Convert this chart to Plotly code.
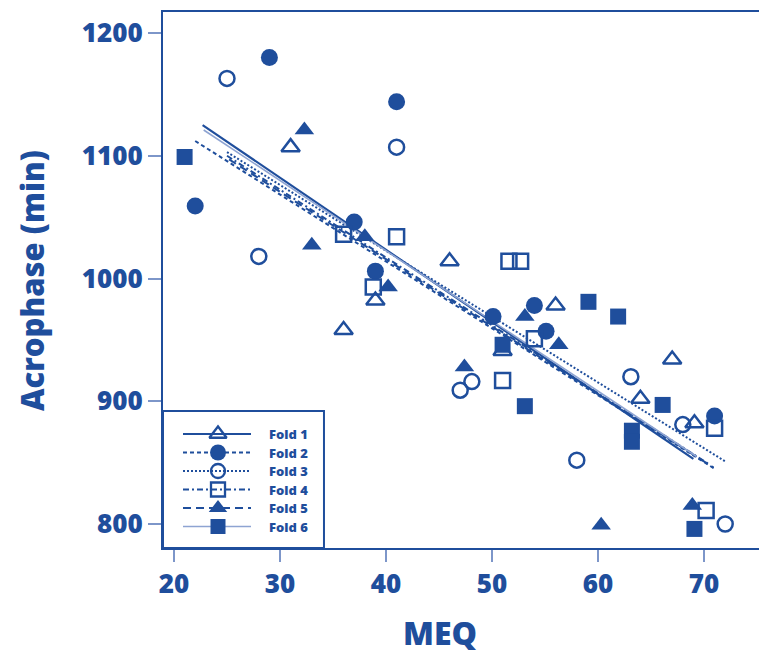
import plotly.graph_objects as go

# ---------------- data ----------------
folds = ["Fold 1", "Fold 2", "Fold 3", "Fold 4", "Fold 5", "Fold 6"]

fold1_meq = [31, 36, 39, 46, 51, 56, 64, 67, 69.1]
fold1_acro = [1107, 958, 982, 1014, 941, 978, 902, 934, 882]

fold2_meq = [22, 29, 41, 37, 39, 50.1, 54, 55.1, 71]
fold2_acro = [1059, 1180, 1144, 1046, 1006, 969, 978, 957, 888]

fold3_meq = [25, 41, 28, 47, 48.1, 58, 63.1, 68, 72]
fold3_acro = [1163, 1107, 1018, 909, 916, 852, 920, 881, 800]

fold4_meq = [36, 41, 38.8, 51.6, 52.7, 51, 54, 71, 70.2]
fold4_acro = [1036, 1034, 993, 1014, 1014, 917, 951, 878, 811]

fold5_meq = [32.3, 33, 38, 40.2, 47.4, 53.1, 56.3, 60.3, 68.9]
fold5_acro = [1121, 1027, 1034, 993, 928, 969, 946, 799, 815]

fold6_meq = [21, 51, 53.1, 59.1, 61.9, 63.2, 63.2, 66.1, 69.1]
fold6_acro = [1099, 946, 896, 981, 969, 876, 867, 897, 796]

# per-fold regression line end points
fit_x_start = [22.7, 22.0, 25.0, 25.0, 25.2, 22.8]
fit_x_end = [69.0, 71.0, 72.0, 70.6, 70.9, 69.3]
fit_y_start = [1125, 1112, 1103, 1100, 1097, 1121]
fit_y_end = [853, 845, 851, 848, 846, 855]

x_ticks = [20, 30, 40, 50, 60, 70]
y_ticks = [800, 900, 1000, 1100, 1200]

# ---------------- styles ----------------
BLUE = "#1f4e9c"
LIGHT = "#8ea4d2"
TICKC = "#7d96c9"
FONT = "Open Sans"
W = 800

meq = [fold1_meq, fold2_meq, fold3_meq, fold4_meq, fold5_meq, fold6_meq]
acro = [fold1_acro, fold2_acro, fold3_acro, fold4_acro, fold5_acro, fold6_acro]
symbols = ["triangle-up-open", "circle", "circle-open", "square-open",
           "triangle-up", "square"]
msize = [16, 17, 15, 15, 17, 16]
dashes = ["solid", "4px,3px", "2px,2px", "6px,3px,2px,3px", "8px,5px", "solid"]
lcolors = [BLUE, BLUE, BLUE, BLUE, BLUE, LIGHT]
lwidths = [2.2, 2, 2, 2, 2, 1.6]

fig = go.Figure()

# regression lines
for i in range(6):
    fig.add_trace(go.Scatter(
        x=[fit_x_start[i], fit_x_end[i]], y=[fit_y_start[i], fit_y_end[i]],
        mode="lines", line=dict(color=lcolors[i], width=lwidths[i], dash=dashes[i]),
        showlegend=False, hoverinfo="skip"))

# points
for i in range(6):
    fig.add_trace(go.Scatter(
        x=meq[i], y=acro[i], mode="markers", name=folds[i],
        marker=dict(symbol=symbols[i], size=msize[i], color=BLUE,
                    line=dict(color=BLUE, width=2.5 if "open" in symbols[i] else 0)),
        showlegend=False))

# ---------------- manual legend (pixel overlay axis) ----------------
row_y = [434, 452.5, 471, 489.5, 508, 526.5]
for i in range(6):
    fig.add_trace(go.Scatter(
        x=[183, 251], y=[row_y[i], row_y[i]], xaxis="x2", yaxis="y2",
        mode="lines", line=dict(color=lcolors[i], width=lwidths[i], dash=dashes[i]),
        showlegend=False, hoverinfo="skip"))
    fig.add_trace(go.Scatter(
        x=[218], y=[row_y[i]], xaxis="x2", yaxis="y2", mode="markers",
        marker=dict(symbol=symbols[i], size=msize[i] - 1, color=BLUE,
                    line=dict(color=BLUE, width=2.3 if "open" in symbols[i] else 0)),
        showlegend=False, hoverinfo="skip"))
    fig.add_annotation(x=268, y=row_y[i], xref="x2", yref="y2", text=folds[i],
                       showarrow=False, xanchor="left", yanchor="middle",
                       borderpad=0,
                       font=dict(family=FONT, size=13, color=BLUE, weight=W))

fig.add_shape(type="rect", xref="paper", yref="paper", x0=0, x1=0.2701,
              y0=0, y1=0.2556, line=dict(color=BLUE, width=2),
              fillcolor="white", layer="below")

# axis titles
fig.add_annotation(x=-0.2198, y=0.5, xref="paper", yref="paper",
                   text="Acrophase (min)", textangle=-90, showarrow=False,
                   xanchor="center", yanchor="middle",
                   font=dict(family=FONT, size=31, color=BLUE, weight=W))
fig.add_annotation(x=0.4648, y=-0.158, xref="paper", yref="paper",
                   text="MEQ", showarrow=False, xanchor="center", yanchor="middle",
                   font=dict(family=FONT, size=32, color=BLUE, weight=W))

fig.update_layout(
    width=759, height=653,
    margin=dict(l=163, r=0, t=12, b=105),
    paper_bgcolor="white", plot_bgcolor="white",
    showlegend=False,
    xaxis=dict(range=[18.962, 75.19], tickvals=x_ticks, showgrid=False,
               zeroline=False, showline=True, linecolor=BLUE, linewidth=2,
               mirror=True, ticks="outside", ticklen=12, tickwidth=2,
               tickcolor=TICKC,
               tickfont=dict(family=FONT, size=26, color=BLUE, weight=W)),
    yaxis=dict(range=[780.45, 1217.1], tickvals=y_ticks, showgrid=False,
               zeroline=False, showline=True, linecolor=BLUE, linewidth=2,
               ticks="outside", ticklen=13, tickwidth=2, tickcolor=TICKC,
               tickfont=dict(family=FONT, size=26, color=BLUE, weight=W)),
    xaxis2=dict(overlaying="x", range=[163, 759], visible=False),
    yaxis2=dict(overlaying="y", range=[548, 12], visible=False),
)

fig.write_html("out.html")
